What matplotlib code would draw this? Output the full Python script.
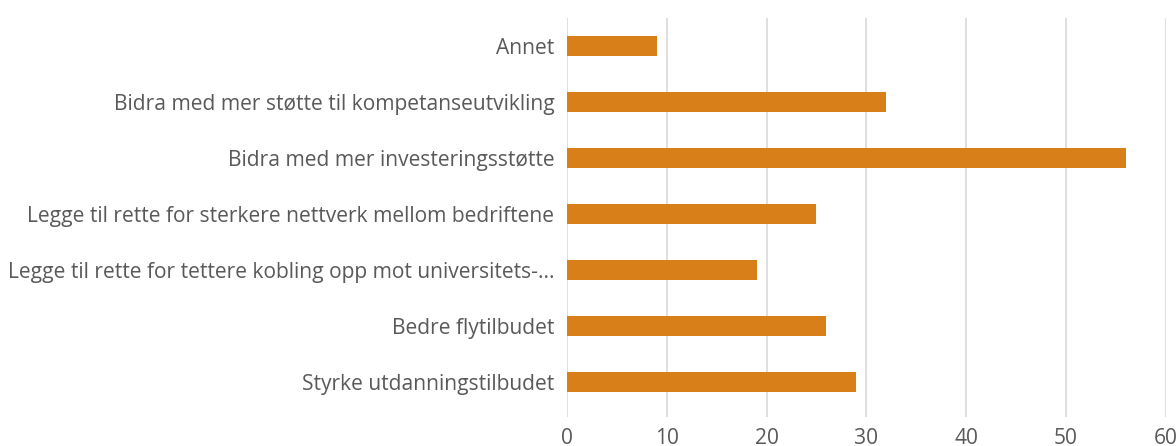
import matplotlib.pyplot as plt

kategorier = ['Styrke utdanningstilbudet',
              'Bedre flytilbudet',
              'Legge til rette for tettere kobling opp mot universitets-...',
              'Legge til rette for sterkere nettverk mellom bedriftene',
              'Bidra med mer investeringsstøtte',
              'Bidra med mer støtte til kompetanseutvikling',
              'Annet']
verdier = [29, 26, 19, 25, 56, 32, 9]
x_ticks = [0, 10, 20, 30, 40, 50, 60]

plt.rcParams['font.family'] = ['Open Sans', 'DejaVu Sans']
tekstfarge = '#595959'

fig = plt.figure(figsize=(11.76, 4.46), dpi=100)
ax = fig.add_axes([0.482, 0.065, 0.5095, 0.895])

ax.barh(range(len(kategorier)), verdier, height=0.36, color='#D97F1A', zorder=3)

ax.set_xlim(0, 60)
ax.set_ylim(-0.62, 6.5)
ax.set_xticks(x_ticks)
ax.set_yticks(range(len(kategorier)))
ax.set_yticklabels(kategorier, fontsize=15.1, color=tekstfarge)
ax.set_xticklabels([str(t) for t in x_ticks], fontsize=15.1, color=tekstfarge)
ax.tick_params(axis='y', length=0, pad=9)
ax.tick_params(axis='x', length=0, pad=8)

ax.grid(axis='x', color='#D9D9D9', linewidth=1.2, zorder=0)
for side in ax.spines.values():
    side.set_visible(False)

fig.savefig('out.png', dpi=100)
